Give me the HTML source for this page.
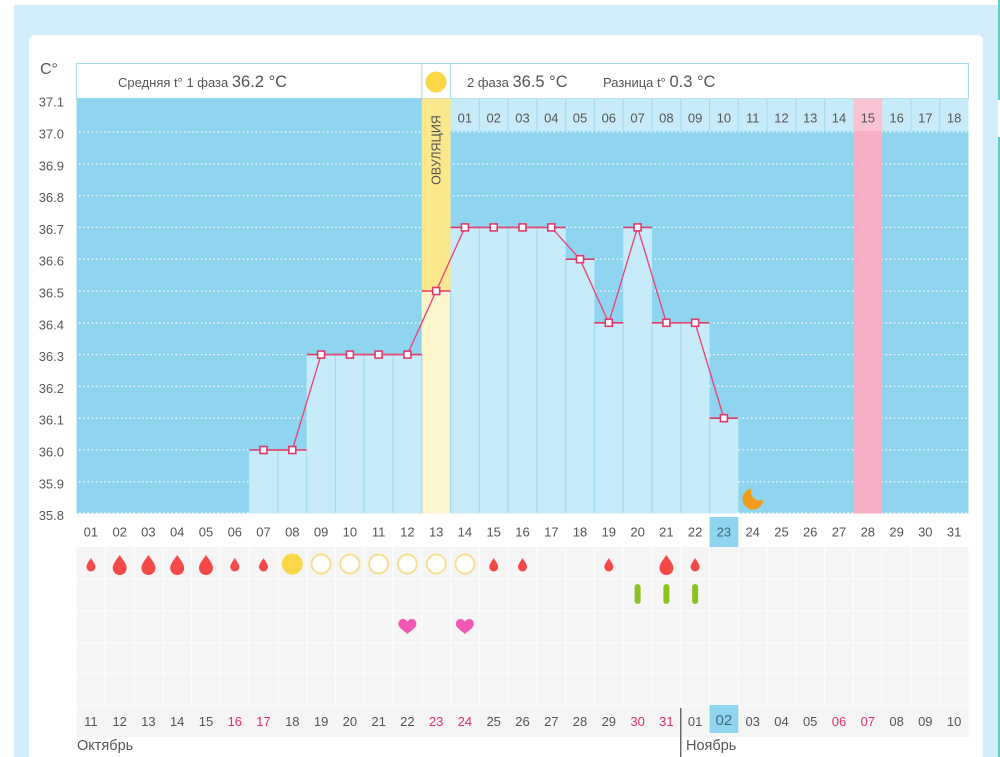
<!DOCTYPE html>
<html><head><meta charset="utf-8"><style>
html,body{margin:0;padding:0;background:#fff;}
svg{display:block;font-family:"Liberation Sans","DejaVu Sans",sans-serif;}
</style></head><body>
<svg width="1000" height="757" viewBox="0 0 1000 757" xmlns="http://www.w3.org/2000/svg">
<defs>
<mask id="moonm"><rect x="730" y="470" width="50" height="50" fill="#fff"/><circle cx="760" cy="491.5" r="9" fill="#000"/></mask>
<path id="dropL" d="M0,-10 C2.5,-6 7,-1.5 7,3 A7,7 0 0 1 -7,3 C-7,-1.5 -2.5,-6 0,-10 Z"/>
<path id="dropS" d="M0,-7 C1.6,-4 4.5,-1 4.5,2 A4.5,4.5 0 0 1 -4.5,2 C-4.5,-1 -1.6,-4 0,-7 Z"/>
<path id="heart" d="M0,7 C-3,4 -9,1 -9,-3 C-9,-6 -7,-8 -4.5,-8 C-2.5,-8 -0.8,-6.8 0,-5.2 C0.8,-6.8 2.5,-8 4.5,-8 C7,-8 9,-6 9,-3 C9,1 3,4 0,7 Z"/>
</defs>
<!-- outer panel -->
<rect x="14" y="5" width="984" height="752" fill="#d2eefa"/>
<rect x="998" y="0" width="2" height="100" fill="#5ccfc6"/>
<rect x="998" y="137" width="2" height="620" fill="#5ccfc6"/>
<rect x="29" y="35" width="954" height="740" rx="6" fill="#fff"/>

<!-- C° and y labels -->
<text x="40" y="74" font-size="16" fill="#5a5a5a">C°</text>
<g font-size="13" fill="#5a5a5a" text-anchor="end">
<text x="64" y="106.5">37.1</text>
<text x="64" y="138.5">37.0</text>
<text x="64" y="170.3">36.9</text>
<text x="64" y="202.1">36.8</text>
<text x="64" y="233.9">36.7</text>
<text x="64" y="265.7">36.6</text>
<text x="64" y="297.5">36.5</text>
<text x="64" y="329.3">36.4</text>
<text x="64" y="361.1">36.3</text>
<text x="64" y="392.9">36.2</text>
<text x="64" y="424.7">36.1</text>
<text x="64" y="456.5">36.0</text>
<text x="64" y="488.3">35.9</text>
<text x="64" y="520">35.8</text>
</g>

<!-- header box -->
<rect x="76.5" y="63.5" width="892" height="35" fill="#fff" stroke="#a8dcef" stroke-width="1"/>
<line x1="421.8" y1="63.5" x2="421.8" y2="98.5" stroke="#a8dcef"/>
<line x1="450.6" y1="63.5" x2="450.6" y2="98.5" stroke="#a8dcef"/>
<circle cx="436" cy="82" r="10.5" fill="#fbd647"/>
<text x="118" y="87" font-size="13" fill="#555">Средняя t° 1 фаза <tspan font-size="16.5">36.2 °C</tspan></text>
<text x="467" y="87" font-size="13" fill="#555">2 фаза <tspan font-size="16.5">36.5 °C</tspan></text>
<text x="603" y="87" font-size="13" fill="#555">Разница t° <tspan font-size="16.5">0.3 °C</tspan></text>

<!-- plot background -->
<rect x="76.5" y="98.5" width="892" height="415" fill="#90d5f0"/>
<!-- gridlines -->
<g stroke="#fff" stroke-width="1.3" stroke-dasharray="1.6 2.6" opacity="0.9">
<line x1="79" y1="132" x2="968" y2="132"/>
<line x1="79" y1="163.8" x2="968" y2="163.8"/>
<line x1="79" y1="195.6" x2="968" y2="195.6"/>
<line x1="79" y1="227.4" x2="968" y2="227.4"/>
<line x1="79" y1="259.2" x2="968" y2="259.2"/>
<line x1="79" y1="291" x2="968" y2="291"/>
<line x1="79" y1="322.8" x2="968" y2="322.8"/>
<line x1="79" y1="354.6" x2="968" y2="354.6"/>
<line x1="79" y1="386.4" x2="968" y2="386.4"/>
<line x1="79" y1="418.2" x2="968" y2="418.2"/>
<line x1="79" y1="450" x2="968" y2="450"/>
<line x1="79" y1="481.8" x2="968" y2="481.8"/>
<line x1="79" y1="513" x2="968" y2="513"/>
</g>
<!-- top day-number row (second phase) -->
<rect x="450.56" y="98.5" width="517.93" height="32.5" fill="#c8ebfa"/>
<!-- ovulation column -->
<rect x="421.79" y="98.5" width="28.77" height="415" fill="#fbe78c"/>
<!-- pink column -->
<rect x="853.4" y="98.5" width="28.77" height="32.5" fill="#f9c3d3"/>
<rect x="853.4" y="131" width="28.77" height="382.5" fill="#f7b0c5"/>
<g stroke="#a6daef" stroke-width="1">
<line x1="479.34" y1="99" x2="479.34" y2="131"/>
<line x1="508.11" y1="99" x2="508.11" y2="131"/>
<line x1="536.88" y1="99" x2="536.88" y2="131"/>
<line x1="565.66" y1="99" x2="565.66" y2="131"/>
<line x1="594.43" y1="99" x2="594.43" y2="131"/>
<line x1="623.21" y1="99" x2="623.21" y2="131"/>
<line x1="651.98" y1="99" x2="651.98" y2="131"/>
<line x1="680.75" y1="99" x2="680.75" y2="131"/>
<line x1="709.53" y1="99" x2="709.53" y2="131"/>
<line x1="738.3" y1="99" x2="738.3" y2="131"/>
<line x1="767.08" y1="99" x2="767.08" y2="131"/>
<line x1="795.85" y1="99" x2="795.85" y2="131"/>
<line x1="824.62" y1="99" x2="824.62" y2="131"/>
<line x1="910.95" y1="99" x2="910.95" y2="131"/>
<line x1="939.72" y1="99" x2="939.72" y2="131"/>
</g>
<g font-size="13" fill="#555" text-anchor="middle">
<text x="464.9" y="122.5">01</text><text x="493.7" y="122.5">02</text><text x="522.5" y="122.5">03</text>
<text x="551.3" y="122.5">04</text><text x="580" y="122.5">05</text><text x="608.8" y="122.5">06</text>
<text x="637.6" y="122.5">07</text><text x="666.4" y="122.5">08</text><text x="695.1" y="122.5">09</text>
<text x="723.9" y="122.5">10</text><text x="752.7" y="122.5">11</text><text x="781.5" y="122.5">12</text>
<text x="810.2" y="122.5">13</text><text x="839" y="122.5">14</text><text x="867.8" y="122.5">15</text>
<text x="896.6" y="122.5">16</text><text x="925.3" y="122.5">17</text><text x="954.1" y="122.5">18</text>
</g>
<text transform="translate(440.5,150) rotate(-90)" font-size="12.5" fill="#555" text-anchor="middle">ОВУЛЯЦИЯ</text>

<!-- bars -->
<g fill="#c8ebfa">
<rect x="249.14" y="450" width="28.78" height="63.5"/>
<rect x="277.92" y="450" width="28.78" height="63.5"/>
<rect x="306.69" y="354.6" width="28.78" height="158.9"/>
<rect x="335.47" y="354.6" width="28.78" height="158.9"/>
<rect x="364.24" y="354.6" width="28.78" height="158.9"/>
<rect x="393.01" y="354.6" width="28.78" height="158.9"/>
<rect x="421.79" y="291" width="28.78" height="222.5" fill="#fdf5cc"/>
<rect x="450.56" y="227.4" width="28.78" height="286.1"/>
<rect x="479.34" y="227.4" width="28.78" height="286.1"/>
<rect x="508.11" y="227.4" width="28.78" height="286.1"/>
<rect x="536.88" y="227.4" width="28.78" height="286.1"/>
<rect x="565.66" y="259.2" width="28.78" height="254.3"/>
<rect x="594.43" y="322.8" width="28.78" height="190.7"/>
<rect x="623.21" y="227.4" width="28.78" height="286.1"/>
<rect x="651.98" y="322.8" width="28.78" height="190.7"/>
<rect x="680.75" y="322.8" width="28.78" height="190.7"/>
<rect x="709.53" y="418.2" width="28.78" height="95.3"/>
</g>
<g stroke="#a3d9ef" stroke-width="1.2">
<line x1="277.92" y1="450" x2="277.92" y2="513"/>
<line x1="306.69" y1="450" x2="306.69" y2="513"/>
<line x1="335.47" y1="354.6" x2="335.47" y2="513"/>
<line x1="364.24" y1="354.6" x2="364.24" y2="513"/>
<line x1="393.01" y1="354.6" x2="393.01" y2="513"/>
<line x1="421.79" y1="354.6" x2="421.79" y2="513"/>
<line x1="450.56" y1="291" x2="450.56" y2="513"/>
<line x1="479.34" y1="227.4" x2="479.34" y2="513"/>
<line x1="508.11" y1="227.4" x2="508.11" y2="513"/>
<line x1="536.88" y1="227.4" x2="536.88" y2="513"/>
<line x1="565.66" y1="259.2" x2="565.66" y2="513"/>
<line x1="594.43" y1="322.8" x2="594.43" y2="513"/>
<line x1="623.21" y1="322.8" x2="623.21" y2="513"/>
<line x1="651.98" y1="322.8" x2="651.98" y2="513"/>
<line x1="680.75" y1="322.8" x2="680.75" y2="513"/>
<line x1="709.53" y1="418.2" x2="709.53" y2="513"/>
</g>
<!-- red bar tops -->
<g stroke="#e03a6a" stroke-width="1.6">
<line x1="249.14" y1="450" x2="306.69" y2="450"/>
<line x1="306.69" y1="354.6" x2="421.79" y2="354.6"/>
<line x1="421.79" y1="291" x2="450.56" y2="291"/>
<line x1="450.56" y1="227.4" x2="565.66" y2="227.4"/>
<line x1="565.66" y1="259.2" x2="594.43" y2="259.2"/>
<line x1="594.43" y1="322.8" x2="623.21" y2="322.8"/>
<line x1="623.21" y1="227.4" x2="651.98" y2="227.4"/>
<line x1="651.98" y1="322.8" x2="709.53" y2="322.8"/>
<line x1="709.53" y1="418.2" x2="738.3" y2="418.2"/>
</g>
<polyline fill="none" stroke="#e54a78" stroke-width="1.4" points="263.5,450 292.3,450 321.1,354.6 349.9,354.6 378.6,354.6 407.4,354.6 436.2,291 464.9,227.4 493.7,227.4 522.5,227.4 551.3,227.4 580,259.2 608.8,322.8 637.6,227.4 666.4,322.8 695.1,322.8 723.9,418.2"/>
<g fill="#fff" stroke="#e03a6a" stroke-width="1.6">
<rect x="260" y="446.5" width="7" height="7"/>
<rect x="288.8" y="446.5" width="7" height="7"/>
<rect x="317.6" y="351.1" width="7" height="7"/>
<rect x="346.4" y="351.1" width="7" height="7"/>
<rect x="375.1" y="351.1" width="7" height="7"/>
<rect x="403.9" y="351.1" width="7" height="7"/>
<rect x="432.7" y="287.5" width="7" height="7"/>
<rect x="461.4" y="223.9" width="7" height="7"/>
<rect x="490.2" y="223.9" width="7" height="7"/>
<rect x="519" y="223.9" width="7" height="7"/>
<rect x="547.8" y="223.9" width="7" height="7"/>
<rect x="576.5" y="255.7" width="7" height="7"/>
<rect x="605.3" y="319.3" width="7" height="7"/>
<rect x="634.1" y="223.9" width="7" height="7"/>
<rect x="662.9" y="319.3" width="7" height="7"/>
<rect x="691.6" y="319.3" width="7" height="7"/>
<rect x="720.4" y="414.7" width="7" height="7"/>
</g>
<!-- moon -->
<circle cx="753" cy="499" r="10.5" fill="#f09a1e" mask="url(#moonm)"/>

<!-- x axis labels (cycle days) -->
<rect x="709.53" y="517" width="28.77" height="30" fill="#90d5f0"/>
<g font-size="13" fill="#555" text-anchor="middle">
<text x="90.9" y="536.5">01</text><text x="119.7" y="536.5">02</text><text x="148.4" y="536.5">03</text>
<text x="177.2" y="536.5">04</text><text x="206" y="536.5">05</text><text x="234.8" y="536.5">06</text>
<text x="263.5" y="536.5">07</text><text x="292.3" y="536.5">08</text><text x="321.1" y="536.5">09</text>
<text x="349.9" y="536.5">10</text><text x="378.6" y="536.5">11</text><text x="407.4" y="536.5">12</text>
<text x="436.2" y="536.5">13</text><text x="464.9" y="536.5">14</text><text x="493.7" y="536.5">15</text>
<text x="522.5" y="536.5">16</text><text x="551.3" y="536.5">17</text><text x="580" y="536.5">18</text>
<text x="608.8" y="536.5">19</text><text x="637.6" y="536.5">20</text><text x="666.4" y="536.5">21</text>
<text x="695.1" y="536.5">22</text><text x="723.9" y="536.5" fill="#3f6a85">23</text><text x="752.7" y="536.5">24</text>
<text x="781.5" y="536.5">25</text><text x="810.2" y="536.5">26</text><text x="839" y="536.5">27</text>
<text x="867.8" y="536.5">28</text><text x="896.6" y="536.5">29</text><text x="925.3" y="536.5">30</text>
<text x="954.1" y="536.5">31</text>
</g>

<!-- bottom grey grid -->
<rect x="76.5" y="547" width="892" height="190" fill="#f5f5f5"/>
<g stroke="#fcfcfc" stroke-width="1.2">
<line x1="76.5" y1="579" x2="968.5" y2="579"/>
<line x1="76.5" y1="611" x2="968.5" y2="611"/>
<line x1="76.5" y1="643" x2="968.5" y2="643"/>
<line x1="76.5" y1="674" x2="968.5" y2="674"/>
<line x1="76.5" y1="706" x2="968.5" y2="706"/>
<line x1="105.27" y1="547" x2="105.27" y2="706"/><line x1="134.05" y1="547" x2="134.05" y2="706"/>
<line x1="162.82" y1="547" x2="162.82" y2="706"/><line x1="191.6" y1="547" x2="191.6" y2="706"/>
<line x1="220.37" y1="547" x2="220.37" y2="706"/><line x1="249.14" y1="547" x2="249.14" y2="706"/>
<line x1="277.92" y1="547" x2="277.92" y2="706"/><line x1="306.69" y1="547" x2="306.69" y2="706"/>
<line x1="335.47" y1="547" x2="335.47" y2="706"/><line x1="364.24" y1="547" x2="364.24" y2="706"/>
<line x1="393.01" y1="547" x2="393.01" y2="706"/><line x1="421.79" y1="547" x2="421.79" y2="706"/>
<line x1="450.56" y1="547" x2="450.56" y2="706"/><line x1="479.34" y1="547" x2="479.34" y2="706"/>
<line x1="508.11" y1="547" x2="508.11" y2="706"/><line x1="536.88" y1="547" x2="536.88" y2="706"/>
<line x1="565.66" y1="547" x2="565.66" y2="706"/><line x1="594.43" y1="547" x2="594.43" y2="706"/>
<line x1="623.21" y1="547" x2="623.21" y2="706"/><line x1="651.98" y1="547" x2="651.98" y2="706"/>
<line x1="680.75" y1="547" x2="680.75" y2="706"/><line x1="709.53" y1="547" x2="709.53" y2="706"/>
<line x1="738.3" y1="547" x2="738.3" y2="706"/><line x1="767.08" y1="547" x2="767.08" y2="706"/>
<line x1="795.85" y1="547" x2="795.85" y2="706"/><line x1="824.62" y1="547" x2="824.62" y2="706"/>
<line x1="853.4" y1="547" x2="853.4" y2="706"/><line x1="882.17" y1="547" x2="882.17" y2="706"/>
<line x1="910.95" y1="547" x2="910.95" y2="706"/><line x1="939.72" y1="547" x2="939.72" y2="706"/>
</g>

<!-- drops / circles row -->
<g fill="#f54848">
<use href="#dropS" x="90.9" y="565"/>
<use href="#dropL" x="119.7" y="565"/>
<use href="#dropL" x="148.4" y="565"/>
<use href="#dropL" x="177.2" y="565"/>
<use href="#dropL" x="206" y="565"/>
<use href="#dropS" x="234.8" y="565"/>
<use href="#dropS" x="263.5" y="565"/>
<use href="#dropS" x="493.7" y="565"/>
<use href="#dropS" x="522.5" y="565"/>
<use href="#dropS" x="608.8" y="565"/>
<use href="#dropL" x="666.4" y="565"/>
<use href="#dropS" x="695.1" y="565"/>
</g>
<circle cx="292.3" cy="564" r="10.5" fill="#fbd647"/>
<g fill="#fff" stroke="#f5e08e" stroke-width="2">
<circle cx="321.1" cy="564" r="9.5"/>
<circle cx="349.9" cy="564" r="9.5"/>
<circle cx="378.6" cy="564" r="9.5"/>
<circle cx="407.4" cy="564" r="9.5"/>
<circle cx="436.2" cy="564" r="9.5"/>
<circle cx="464.9" cy="564" r="9.5"/>
</g>
<!-- green bars -->
<g fill="#8dc021">
<rect x="634.6" y="584" width="6" height="20" rx="3"/>
<rect x="663.4" y="584" width="6" height="20" rx="3"/>
<rect x="692.1" y="584" width="6" height="20" rx="3"/>
</g>
<!-- hearts -->
<g fill="#f257b6">
<use href="#heart" x="407.4" y="627"/>
<use href="#heart" x="464.9" y="627"/>
</g>

<!-- calendar dates -->
<rect x="709.53" y="705" width="28.77" height="28" fill="#90d5f0"/>
<line x1="680.75" y1="708" x2="680.75" y2="757" stroke="#555" stroke-width="1.3"/>
<g font-size="13" fill="#555" text-anchor="middle">
<text x="90.9" y="726">11</text><text x="119.7" y="726">12</text><text x="148.4" y="726">13</text>
<text x="177.2" y="726">14</text><text x="206" y="726">15</text><text x="234.8" y="726" fill="#e0306a">16</text>
<text x="263.5" y="726" fill="#e0306a">17</text><text x="292.3" y="726">18</text><text x="321.1" y="726">19</text>
<text x="349.9" y="726">20</text><text x="378.6" y="726">21</text><text x="407.4" y="726">22</text>
<text x="436.2" y="726" fill="#e0306a">23</text><text x="464.9" y="726" fill="#e0306a">24</text><text x="493.7" y="726">25</text>
<text x="522.5" y="726">26</text><text x="551.3" y="726">27</text><text x="580" y="726">28</text>
<text x="608.8" y="726">29</text><text x="637.6" y="726" fill="#e0306a">30</text><text x="666.4" y="726" fill="#e0306a">31</text>
<text x="695.1" y="726">01</text><text x="723.9" y="725" font-size="15" fill="#3f6a85">02</text><text x="752.7" y="726">03</text>
<text x="781.5" y="726">04</text><text x="810.2" y="726">05</text><text x="839" y="726" fill="#e0306a">06</text>
<text x="867.8" y="726" fill="#e0306a">07</text><text x="896.6" y="726">08</text><text x="925.3" y="726">09</text>
<text x="954.1" y="726">10</text>
</g>
<text x="77" y="750" font-size="14.5" fill="#555">Октябрь</text>
<text x="686" y="750" font-size="14.5" fill="#555">Ноябрь</text>
</svg>
</body></html>
